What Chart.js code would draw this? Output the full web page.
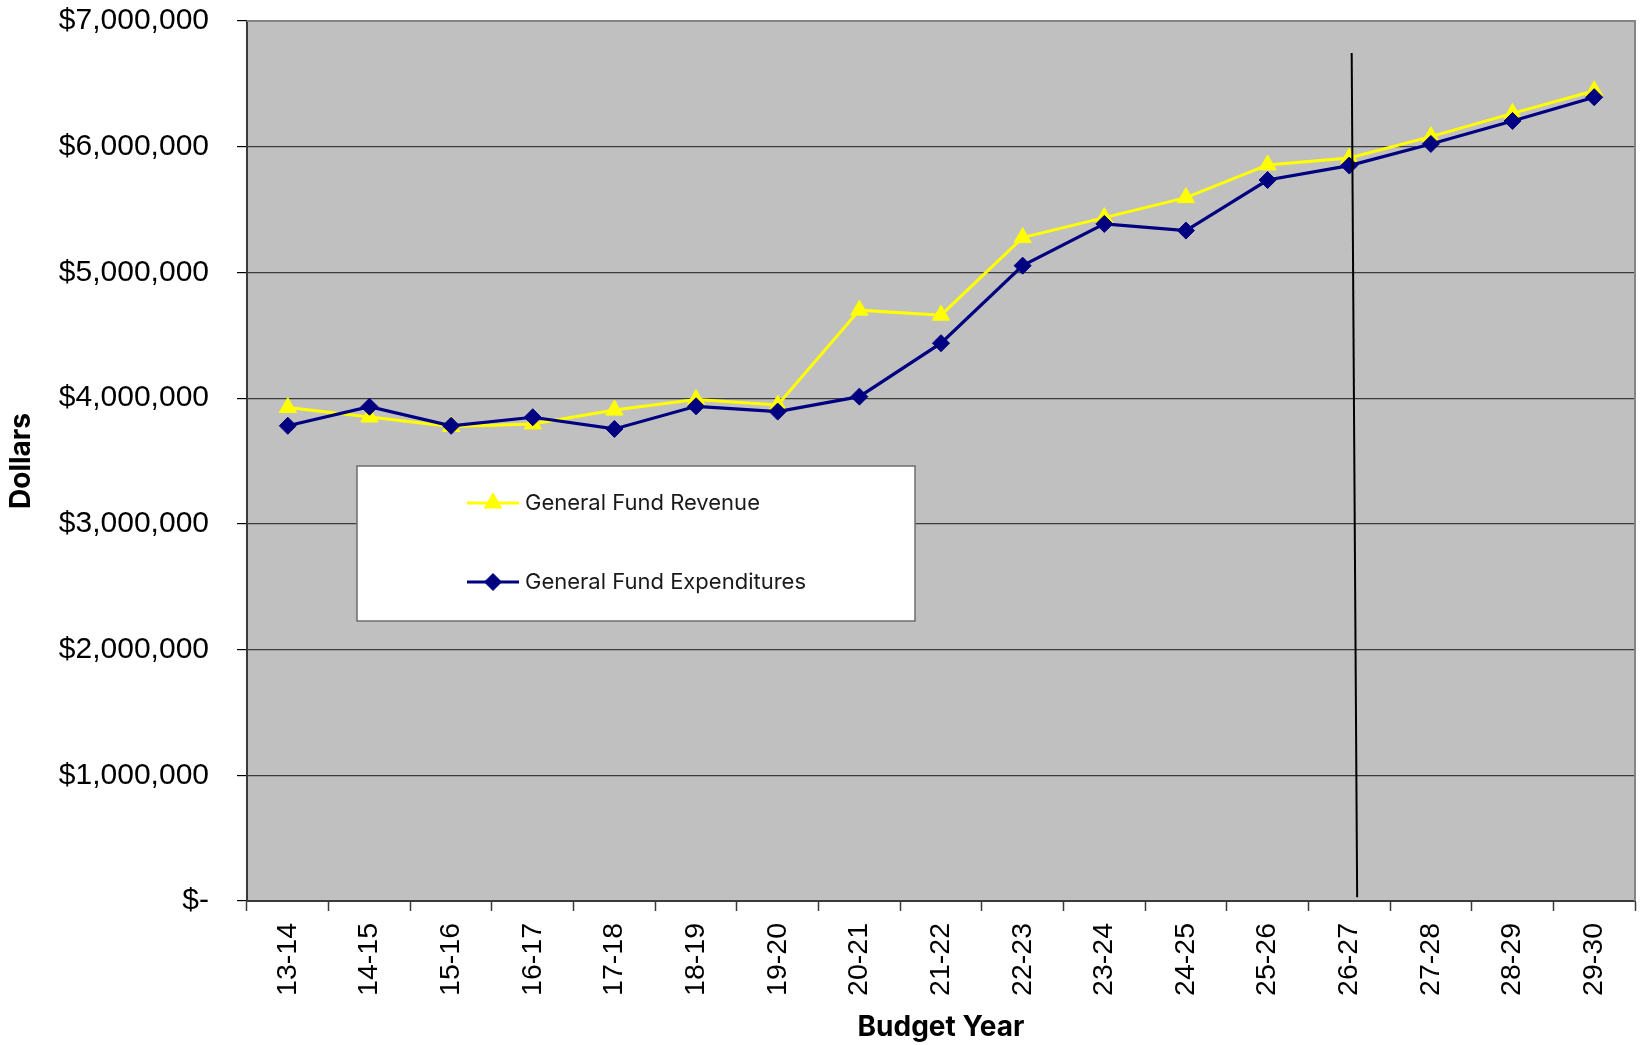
<!DOCTYPE html>
<html>
<head>
<meta charset="utf-8">
<title>General Fund Revenue and Expenditures</title>
<script src="https://cdn.jsdelivr.net/npm/chart.js@4/dist/chart.umd.min.js"></script>
<style>
  html, body { margin: 0; padding: 0; background: #ffffff; }
  #wrap { width: 1646px; height: 1045px; }
</style>
</head>
<body>
<div id="wrap"><canvas id="chart" width="1646" height="1045"></canvas></div>
<script>
// Budget years shown on the category axis
const budgetYears = ['13-14','14-15','15-16','16-17','17-18','18-19','19-20','20-21','21-22',
                     '22-23','23-24','24-25','25-26','26-27','27-28','28-29','29-30'];

// General fund totals in dollars
const revenue = [3925000, 3850000, 3775000, 3795000, 3905000, 3990000, 3945000, 4700000, 4660000,
                 5277000, 5436000, 5595000, 5855000, 5910000, 6080000, 6265000, 6445000];
const expenditures = [3780000, 3932000, 3780000, 3848000, 3755000, 3935000, 3893000, 4012000, 4437000,
                      5054000, 5386000, 5333000, 5735000, 5850000, 6022000, 6205000, 6394000];

const seriesNames = ['General Fund Revenue', 'General Fund Expenditures'];

// Dollar axis tick values
const yTickValues = [0, 1000000, 2000000, 3000000, 4000000, 5000000, 6000000, 7000000];

// Hand-drawn divider between the actual and projected years (category index, dollars)
const dividerStart = { x: 13.03, y: 6746000 };
const dividerEnd = { x: 13.097, y: 30000 };

const yTickFont = { family: '"Liberation Sans", Arial, sans-serif', size: 30 };
const xTickFont = { family: '"Liberation Sans", Arial, sans-serif', size: 28.5 };
const titleFont = { family: 'Inter, "Open Sans", sans-serif', size: 28, weight: 'bold' };

function formatDollars(v) {
  if (v === 0) return '$-';
  return '$' + v.toLocaleString('en-US');
}

// Grey plot area, frame, divider line and the boxed key inside the plot
const plotDecor = {
  id: 'plotDecor',
  beforeDraw(chart) {
    const { ctx, chartArea: a } = chart;
    ctx.save();
    ctx.fillStyle = '#c0c0c0';
    ctx.fillRect(a.left, a.top, a.right - a.left, a.bottom - a.top);
    ctx.restore();
  },
  afterDatasetsDraw(chart) {
    const { ctx, chartArea: a, scales } = chart;
    ctx.save();
    // top and right frame
    ctx.strokeStyle = '#858585';
    ctx.lineWidth = 2;
    ctx.beginPath();
    ctx.moveTo(a.left, a.top);
    ctx.lineTo(a.right, a.top);
    ctx.lineTo(a.right, a.bottom);
    ctx.stroke();

    // divider line
    ctx.strokeStyle = '#000000';
    ctx.lineWidth = 2;
    ctx.beginPath();
    ctx.moveTo(scales.x.getPixelForValue(dividerStart.x), scales.y.getPixelForValue(dividerStart.y));
    ctx.lineTo(scales.x.getPixelForValue(dividerEnd.x), scales.y.getPixelForValue(dividerEnd.y));
    ctx.stroke();

    // key box
    const box = { left: 357, top: 466, width: 558, height: 155 };
    ctx.fillStyle = '#ffffff';
    ctx.fillRect(box.left, box.top, box.width, box.height);
    ctx.strokeStyle = '#6e6e6e';
    ctx.lineWidth = 1.5;
    ctx.strokeRect(box.left, box.top, box.width, box.height);

    const rows = [503, 582];
    chart.data.datasets.forEach((ds, i) => {
      const y = rows[i];
      ctx.strokeStyle = ds.borderColor;
      ctx.lineWidth = 3;
      ctx.beginPath();
      ctx.moveTo(467, y);
      ctx.lineTo(519, y);
      ctx.stroke();
      ctx.fillStyle = ds.pointBackgroundColor;
      ctx.strokeStyle = ds.pointBorderColor;
      ctx.lineWidth = 1;
      Chart.helpers.drawPoint(ctx, {
        pointStyle: ds.pointStyle,
        radius: ds.pointRadius,
        rotation: 0,
        borderWidth: 1
      }, 493, y);
      ctx.fillStyle = '#1a1a1a';
      ctx.font = '22px Inter, "Open Sans", sans-serif';
      ctx.textBaseline = 'middle';
      ctx.textAlign = 'left';
      ctx.fillText(ds.label, 525, y);
    });
    ctx.restore();
  }
};

new Chart(document.getElementById('chart'), {
  type: 'line',
  data: {
    labels: budgetYears,
    datasets: [
      {
        label: seriesNames[0],
        data: revenue,
        borderColor: '#ffff00',
        backgroundColor: '#ffff00',
        pointBackgroundColor: '#ffff00',
        pointBorderColor: '#ffff00',
        borderWidth: 3,
        pointStyle: 'triangle',
        pointRadius: 10,
        pointBorderWidth: 1,
        tension: 0,
        order: 2
      },
      {
        label: seriesNames[1],
        data: expenditures,
        borderColor: '#000080',
        backgroundColor: '#000080',
        pointBackgroundColor: '#000080',
        pointBorderColor: '#000080',
        borderWidth: 3.2,
        pointStyle: 'rectRot',
        pointRadius: 8.5,
        pointBorderWidth: 1,
        tension: 0,
        order: 1
      }
    ]
  },
  options: {
    responsive: false,
    animation: false,
    layout: { padding: { left: 0, top: 21, right: 7, bottom: 0 } },
    plugins: {
      legend: { display: false },
      tooltip: { enabled: false }
    },
    scales: {
      x: {
        type: 'category',
        offset: true,
        grid: {
          offset: true,
          drawOnChartArea: false,
          drawTicks: true,
          tickLength: 10,
          tickColor: '#3a3a3a',
          tickWidth: 1.5
        },
        border: { display: true, color: '#3a3a3a', width: 2 },
        ticks: {
          font: xTickFont,
          color: '#000000',
          minRotation: 90,
          maxRotation: 90,
          padding: 12,
          autoSkip: false
        },
        title: {
          display: true,
          text: 'Budget Year',
          font: titleFont,
          color: '#000000',
          padding: { top: 0, bottom: 0.5 }
        },
        afterFit(scale) {
          scale.height = 144;
          scale.paddingLeft = 0;
          scale.paddingRight = 0;
        }
      },
      y: {
        min: 0,
        max: 7000000,
        afterBuildTicks(scale) { scale.ticks = yTickValues.map(v => ({ value: v })); },
        grid: {
          color: (c) => (c.tick && c.tick.value === 7000000) ? '#858585' : '#3c3c3c',
          lineWidth: 1.2,
          tickLength: 10,
          tickColor: '#000000'
        },
        border: { display: true, color: '#3a3a3a', width: 2 },
        ticks: {
          font: yTickFont,
          color: '#000000',
          padding: 28,
          callback: (v) => formatDollars(v)
        },
        title: {
          display: true,
          text: 'Dollars',
          font: titleFont,
          color: '#000000',
          padding: { top: 5, bottom: 0 }
        },
        afterFit(scale) {
          scale.width = 247;
          scale.paddingTop = 0;
          scale.paddingBottom = 0;
        }
      }
    }
  },
  plugins: [plotDecor]
});
</script>
</body>
</html>
